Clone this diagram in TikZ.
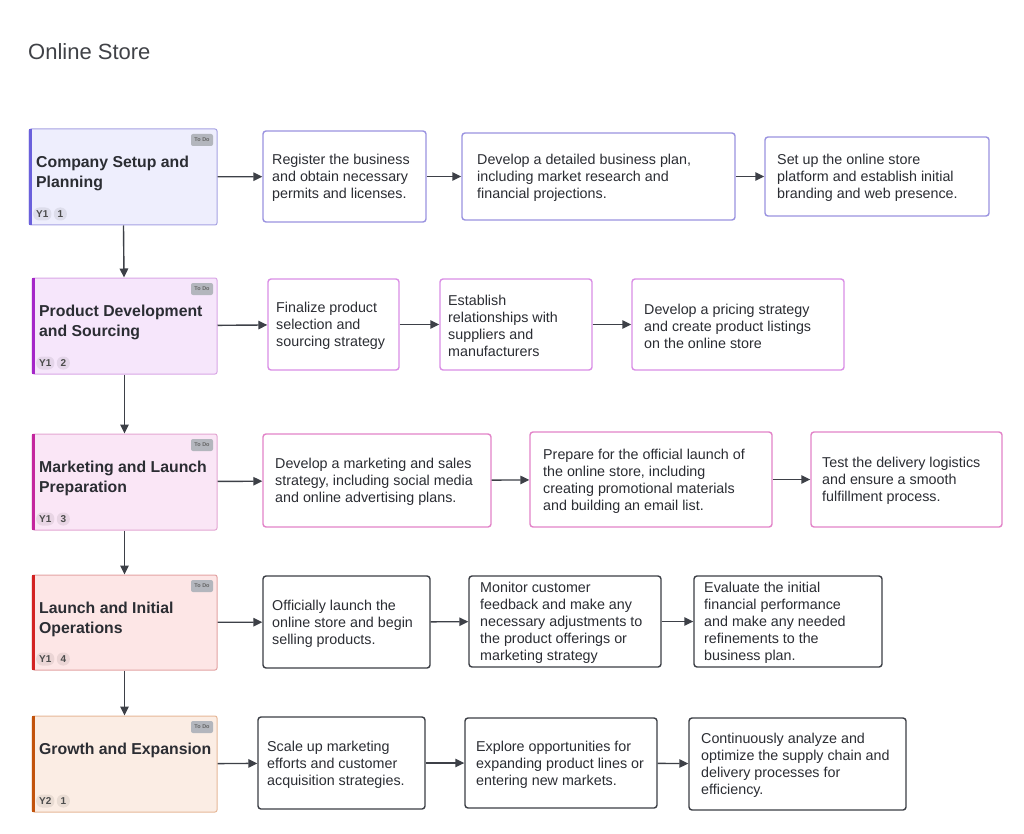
\documentclass[tikz,border=0pt]{standalone}
\usepackage{fontspec}
\setmainfont{Liberation Sans}
\usetikzlibrary{arrows.meta,positioning}
\definecolor{ink}{HTML}{2B2D33}
\definecolor{arrowc}{HTML}{3D4047}
\definecolor{todoc}{HTML}{B3B6BD}
\definecolor{pAf}{HTML}{EEEEFD}\definecolor{pAb}{HTML}{A6A2E3}\definecolor{pAa}{HTML}{6A60DC}
\definecolor{pBf}{HTML}{F6E6FB}\definecolor{pBb}{HTML}{D9A6E6}\definecolor{pBa}{HTML}{A526C8}
\definecolor{pCf}{HTML}{FAE6F6}\definecolor{pCb}{HTML}{E3A6D2}\definecolor{pCa}{HTML}{C4269E}
\definecolor{pDf}{HTML}{FDE6E6}\definecolor{pDb}{HTML}{E3A3A3}\definecolor{pDa}{HTML}{D32222}
\definecolor{pEf}{HTML}{FBEDE4}\definecolor{pEb}{HTML}{E6B898}\definecolor{pEa}{HTML}{C2530C}
\definecolor{tA}{HTML}{9A93E0}
\definecolor{tB}{HTML}{DA8EE6}
\definecolor{tC}{HTML}{E283C8}
\definecolor{tD}{HTML}{3B3E45}
\tikzset{
  box/.style={draw=#1, line width=1.4pt, rounded corners=3pt, fill=white, inner sep=0pt},
  tasktext/.style={anchor=west, align=left, inner sep=0pt, text=ink, font=\fontsize{14.3}{17}\selectfont},
  phasetitle/.style={anchor=north west, align=left, inner sep=0pt, text=ink, font=\fontsize{15.8}{20}\selectfont\bfseries},
  todo/.style={fill=todoc, rounded corners=2pt, minimum width=22pt, minimum height=12pt, inner sep=0pt, text=black!60, font=\fontsize{5.5}{6}\selectfont\bfseries},
  pill/.style={fill=black, fill opacity=0.07, text opacity=1, rounded corners=6pt, minimum height=13pt, minimum width=13pt, inner xsep=3pt, inner ysep=0pt, text=black!70, font=\fontsize{10}{11}\selectfont\bfseries},
  conn/.style={draw=arrowc, line width=1.4pt, -{Triangle[length=9pt,width=8.5pt]}},
}
% name x1 y1 x2 y2 pad color text
\newcommand\taskbox[8]{%
  \node[box=#7, minimum width={(#4-#2)*1pt}, minimum height={(#5-#3)*1pt}] (#1) at ({(#2+#4)/2},{(#3+#5)/2}) {};
  \node[tasktext] (#1-t) at ({#2+#6},{(#3+#5)/2+1.5}) {#8};
}
% name x1 y1 x2 y2 prefix title year num
\newcommand\phasebox[9]{%
  \node[draw=#6b, fill=#6f, line width=1pt, rounded corners=2pt, inner sep=0pt, minimum width={(#4-#2)*1pt}, minimum height={(#5-#3)*1pt}] (#1) at ({(#2+#4)/2},{(#3+#5)/2}) {};
  \fill[#6a] (#2,#3) rectangle ({#2+3},#5);
  \node[phasetitle] (#1-t) at ({#2+7},{#3+27}) {#7};
  \node[todo] (#1-s) at ({#4-15},{#3+11}) {To Do};
  \node[pill, anchor=west] (#1-y) at ({#2+4},{#5-11}) {#8};
  \node[pill, right=2pt of #1-y] (#1-n) {#9};
}
\begin{document}
\begin{tikzpicture}[x=1pt,y=-1pt]
\useasboundingbox (0,0) rectangle (1024,834);
\fill[white] (0,0) rectangle (1024,834);
\node[anchor=west, inner sep=0pt, text=ink!90, font=\fontsize{22}{26}\selectfont] (title) at (28,52) {Online Store};

\phasebox{p1}{29}{129}{217}{225}{pA}{Company Setup and\\Planning}{Y1}{1}
\phasebox{p2}{32}{278}{217}{374}{pB}{Product Development\\and Sourcing}{Y1}{2}
\phasebox{p3}{32}{434}{217}{530}{pC}{Marketing and Launch\\Preparation}{Y1}{3}
\phasebox{p4}{32}{575}{217}{670}{pD}{Launch and Initial\\Operations}{Y1}{4}
\phasebox{p5}{32}{716}{217}{812}{pE}{Growth and Expansion}{Y2}{1}

\taskbox{a1}{263}{131}{426}{222}{9}{tA}{Register the business\\and obtain necessary\\permits and licenses.}
\taskbox{a2}{462}{133}{735}{220}{15}{tA}{Develop a detailed business plan,\\including market research and\\financial projections.}
\taskbox{a3}{765}{137}{989}{216}{12}{tA}{Set up the online store\\platform and establish initial\\branding and web presence.}

\taskbox{b1}{268}{279}{399}{370}{8}{tB}{Finalize product\\selection and\\sourcing strategy}
\taskbox{b2}{440}{279}{592}{370}{8}{tB}{Establish\\relationships with\\suppliers and\\manufacturers}
\taskbox{b3}{632}{279}{844}{370}{12}{tB}{Develop a pricing strategy\\and create product listings\\on the online store}

\taskbox{c1}{263}{434}{491}{527}{12}{tC}{Develop a marketing and sales\\strategy, including social media\\and online advertising plans.}
\taskbox{c2}{530}{432}{772}{527}{13}{tC}{Prepare for the official launch of\\the online store, including\\creating promotional materials\\and building an email list.}
\taskbox{c3}{811}{432}{1002}{527}{11}{tC}{Test the delivery logistics\\and ensure a smooth\\fulfillment process.}

\taskbox{d1}{263}{576}{430}{668}{9}{tD}{Officially launch the\\online store and begin\\selling products.}
\taskbox{d2}{469}{576}{661}{667}{11}{tD}{Monitor customer\\feedback and make any\\necessary adjustments to\\the product offerings or\\marketing strategy}
\taskbox{d3}{694}{576}{882}{667}{10}{tD}{Evaluate the initial\\financial performance\\and make any needed\\refinements to the\\business plan.}

\taskbox{e1}{258}{717}{425}{809}{9}{tD}{Scale up marketing\\efforts and customer\\acquisition strategies.}
\taskbox{e2}{465}{718}{657}{808}{11}{tD}{Explore opportunities for\\expanding product lines or\\entering new markets.}
\taskbox{e3}{689}{718}{906}{810}{12}{tD}{Continuously analyze and\\optimize the supply chain and\\delivery processes for\\efficiency.}

\draw[conn] (p1) -- (p2);
\draw[conn] (p2) -- (p3);
\draw[conn] (p3) -- (p4);
\draw[conn] (p4) -- (p5);

\draw[conn] (p1) -- (a1);
\draw[conn] (a1) -- (a2);
\draw[conn] (a2) -- (a3);
\draw[conn] (p2) -- (b1);
\draw[conn] (b1) -- (b2);
\draw[conn] (b2) -- (b3);
\draw[conn] (p3) -- (c1);
\draw[conn] (c1) -- (c2);
\draw[conn] (c2) -- (c3);
\draw[conn] (p4) -- (d1);
\draw[conn] (d1) -- (d2);
\draw[conn] (d2) -- (d3);
\draw[conn] (p5) -- (e1);
\draw[conn] (e1) -- (e2);
\draw[conn] (e2) -- (e3);
\end{tikzpicture}
\end{document}
